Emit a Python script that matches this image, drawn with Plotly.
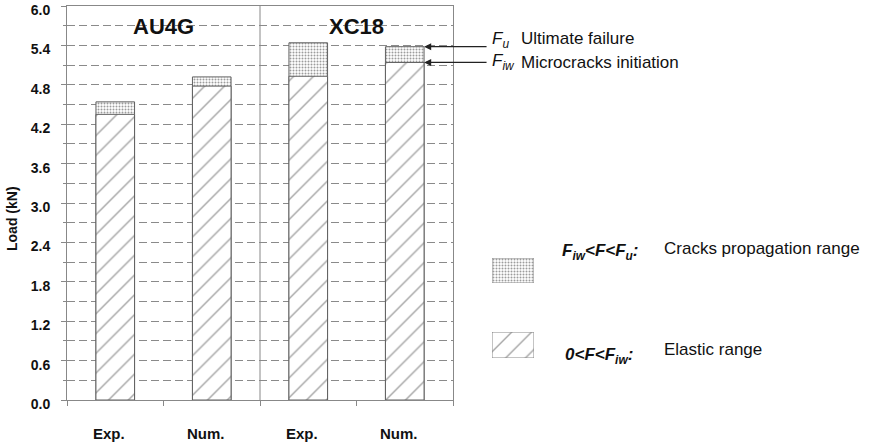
import plotly.graph_objects as go

# Data: load levels (kN) per material / method
categories = ["Exp.", "Num.", "Exp.", "Num."]
materials = ["AU4G", "XC18"]
f_iw = [4.35, 4.78, 4.93, 5.14]   # microcracks initiation
f_u = [4.54, 4.92, 5.44, 5.38]    # ultimate failure
y_ticks = [0.0, 0.6, 1.2, 1.8, 2.4, 3.0, 3.6, 4.2, 4.8, 5.4, 6.0]

W, H = 870, 446
FONT = "Liberation Sans, Arial, sans-serif"
BAR_W = 0.4


def fx(px):
    return px / W


def fy(py):
    return 1 - py / H


dot_pattern = dict(shape=".", fgcolor="#3a3a3a", bgcolor="white", size=3, solidity=0.35)
hatch_pattern = dict(shape="/", fgcolor="#4a4a4a", bgcolor="white", size=14, solidity=0.1)
outline = dict(color="#606060", width=1)

x_pos = list(range(len(categories)))

fig = go.Figure()
fig.add_trace(go.Bar(x=x_pos, y=f_u, width=BAR_W, marker=dict(color="white", pattern=dot_pattern, line=outline),
                     showlegend=False, hoverinfo="skip"))
fig.add_trace(go.Bar(x=x_pos, y=f_iw, width=BAR_W, marker=dict(color="white", pattern=hatch_pattern, line=outline),
                     showlegend=False, hoverinfo="skip"))

# legend key patches on their own small axes
fig.add_trace(go.Bar(x=[0.5], y=[1], width=[1], xaxis="x2", yaxis="y2",
                     marker=dict(color="white", pattern=dot_pattern, line=dict(color="#888", width=1)),
                     showlegend=False, hoverinfo="skip"))
fig.add_trace(go.Bar(x=[0.5], y=[1], width=[1], xaxis="x2", yaxis="y3",
                     marker=dict(color="white", pattern=hatch_pattern, line=dict(color="#888", width=1)),
                     showlegend=False, hoverinfo="skip"))

grid = dict(showgrid=True, gridcolor="#8a8a8a", gridwidth=1, griddash="8px,4px")

fig.update_layout(
    width=W, height=H,
    margin=dict(l=0, r=0, t=0, b=0),
    paper_bgcolor="white", plot_bgcolor="white",
    barmode="overlay",
    font=dict(family=FONT, color="#111"),
    xaxis=dict(
        domain=[fx(67), fx(453)], range=[-0.5, 3.5], automargin=False,
        tickvals=x_pos, showticklabels=False, ticks="",
        showgrid=False, zeroline=False,
        showline=True, linecolor="#888", linewidth=1, mirror=True,
        minor=dict(tick0=0.5, dtick=1, ticks="outside", ticklen=5, tickcolor="#888"),
    ),
    yaxis=dict(
        domain=[fy(400), fy(6)], range=[0, 6], automargin=False,
        tickvals=y_ticks, ticktext=[f"<b>{v:.1f}</b>" for v in y_ticks],
        ticks="outside", ticklen=5, tickcolor="#888",
        tickfont=dict(size=14, color="#111"),
        ticklabelstandoff=8, ticklabelshift=4, ticklabeloverflow="allow",
        zeroline=False,
        showline=True, linecolor="#888", linewidth=1, mirror=True,
        minor=dict(dtick=0.3, ticks="outside", ticklen=3, tickcolor="#888", **grid),
        **grid,
    ),
    xaxis2=dict(domain=[fx(492), fx(534)], range=[0, 1], visible=False, anchor="y2"),
    yaxis2=dict(domain=[fy(283), fy(258)], range=[0, 1], visible=False, anchor="x2"),
    yaxis3=dict(domain=[fy(358), fy(332)], range=[0, 1], visible=False, anchor="x2"),
)

# divider between the two materials
fig.add_shape(type="line", xref="x", yref="y domain", x0=1.5, x1=1.5, y0=0, y1=1,
              line=dict(color="#888", width=1))

annotations = []
# category labels under the bars
for i, c in enumerate(categories):
    annotations.append(dict(xref="x", yref="paper", x=i, y=fy(433), xshift=-6, text=f"<b>{c}</b>",
                            showarrow=False, font=dict(size=15, color="#111"),
                            xanchor="center", yanchor="middle"))

# material headers
for i, m in enumerate(materials):
    annotations.append(dict(xref="x", yref="paper", x=2 * i + 0.5, y=fy(27), text=f"<b>{m}</b>",
                            showarrow=False, font=dict(size=22, color="#111"),
                            xanchor="center", yanchor="middle"))

# y-axis title
annotations.append(dict(xref="paper", yref="paper", x=fx(12), y=fy(219), text="<b>Load (kN)</b>",
                        textangle=-90, showarrow=False, font=dict(size=14, color="#111"),
                        xanchor="center", yanchor="middle"))

# arrows to the XC18 numerical bar
last = len(categories) - 1
for val in (f_u[last], f_iw[last]):
    annotations.append(dict(xref="x", yref="y", x=last + BAR_W / 2, y=val, text="",
                            showarrow=True, ax=64, ay=0, arrowhead=2, arrowsize=1.1,
                            arrowwidth=1.3, arrowcolor="#222"))

# labels beside the arrows
annotations += [
    dict(xref="paper", yref="paper", x=fx(490), y=fy(40), text="<i>F<sub>u</sub></i>",
         showarrow=False, font=dict(size=17), xanchor="left", yanchor="middle"),
    dict(xref="paper", yref="paper", x=fx(519), y=fy(38), text="Ultimate failure",
         showarrow=False, font=dict(size=17), xanchor="left", yanchor="middle"),
    dict(xref="paper", yref="paper", x=fx(490), y=fy(62), text="<i>F<sub>iw</sub></i>",
         showarrow=False, font=dict(size=17), xanchor="left", yanchor="middle"),
    dict(xref="paper", yref="paper", x=fx(519), y=fy(63), text="Microcracks initiation",
         showarrow=False, font=dict(size=17), xanchor="left", yanchor="middle"),
]

# legend texts
annotations += [
    dict(xref="paper", yref="paper", x=fx(560), y=fy(252),
         text="<b><i>F<sub>iw</sub><F<F<sub>u</sub>:</i></b>",
         showarrow=False, font=dict(size=17), xanchor="left", yanchor="middle"),
    dict(xref="paper", yref="paper", x=fx(662), y=fy(249), text="Cracks propagation range",
         showarrow=False, font=dict(size=17), xanchor="left", yanchor="middle"),
    dict(xref="paper", yref="paper", x=fx(563), y=fy(356),
         text="<b><i>0<F<F<sub>iw</sub>:</i></b>",
         showarrow=False, font=dict(size=17), xanchor="left", yanchor="middle"),
    dict(xref="paper", yref="paper", x=fx(662), y=fy(349), text="Elastic range",
         showarrow=False, font=dict(size=17), xanchor="left", yanchor="middle"),
]

fig.update_layout(annotations=annotations)
fig.write_html("out.html")
